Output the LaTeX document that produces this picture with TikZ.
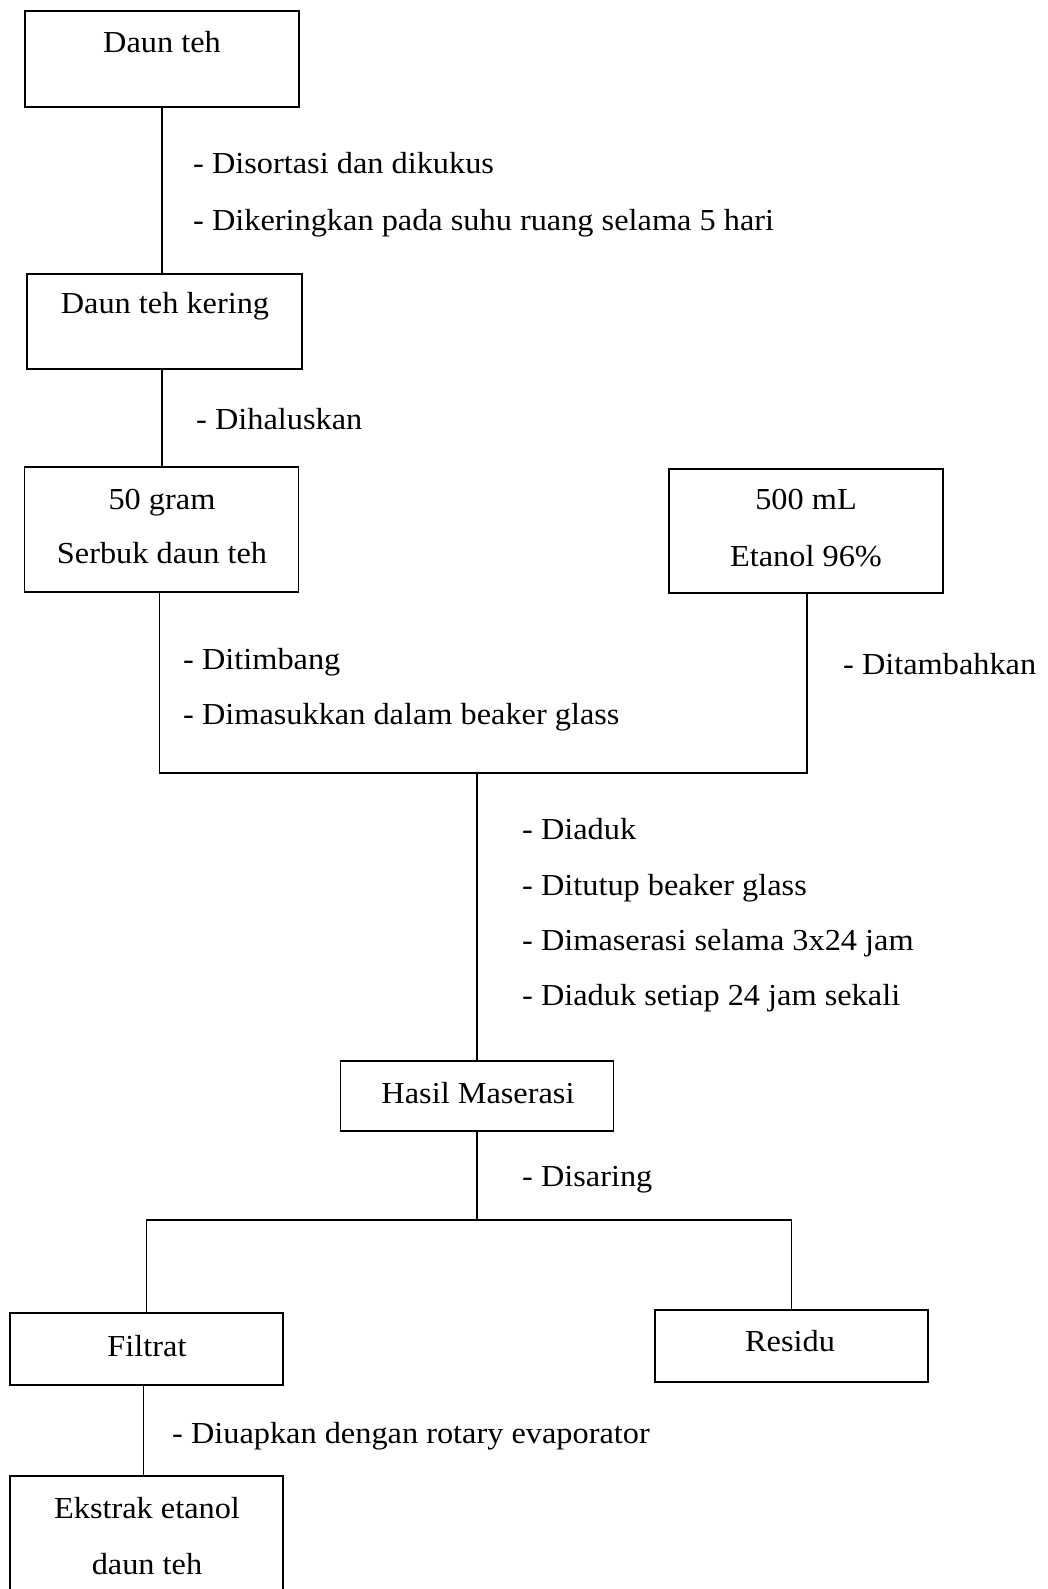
\documentclass[tikz,border=0pt]{standalone}
\usepackage{fontspec}
\setmainfont{Liberation Serif}[FakeStretch=1.06]
\begin{document}
\begin{tikzpicture}[x=1pt,y=-1pt,
  box/.style={draw, line width=1.1pt, inner sep=0pt},
  txt/.style={anchor=base, inner sep=0pt, font=\fontsize{30.5}{36}\selectfont},
  lbl/.style={anchor=base west, inner sep=0pt, font=\fontsize{30.5}{36}\selectfont},
  conn/.style={line width=1.1pt}]
\useasboundingbox (0,0) rectangle (1047,1589);
\clip (0,0) rectangle (1047,1589);

% boxes
\node[box, minimum width=274pt, minimum height=96pt]  (b1) at (162,59) {};
\node[box, minimum width=275pt, minimum height=95pt]  (b2) at (164.5,321.5) {};
\node[box, minimum width=274pt, minimum height=125pt] (b3) at (161.5,529.5) {};
\node[box, minimum width=274pt, minimum height=124pt] (b4) at (806,531) {};
\node[box, minimum width=273pt, minimum height=70pt]  (hasil) at (477,1096) {};
\node[box, minimum width=273pt, minimum height=72pt]  (filtrat) at (146.5,1349) {};
\node[box, minimum width=273pt, minimum height=72pt]  (residu) at (791.5,1346) {};
\node[box, minimum width=273pt, minimum height=150pt] (ekstrak) at (146.5,1551) {};

% box texts
\node[txt] (t1) at (162,53) {Daun teh};
\node[txt] (t2) at (165,313) {Daun teh kering};
\node[txt] (t3a) at (162,509) {50 gram};
\node[txt] (t3b) at (162,563) {Serbuk daun teh};
\node[txt] (t4a) at (806,509) {500 mL};
\node[txt] (t4b) at (806,566) {Etanol 96\%};
\node[txt] (th) at (478,1103) {Hasil Maserasi};
\node[txt] (tf) at (147,1356) {Filtrat};
\node[txt] (tr) at (790,1351) {Residu};
\node[txt] (tea) at (147,1518) {Ekstrak etanol};
\node[txt] (teb) at (147,1574) {daun teh};

% step labels
\node[lbl] (l1) at (193,174) {- Disortasi dan dikukus};
\node[lbl] (l2) at (193,231) {- Dikeringkan pada suhu ruang selama 5 hari};
\node[lbl] (l3) at (196,429) {- Dihaluskan};
\node[lbl] (l4) at (183,669) {- Ditimbang};
\node[lbl] (l5) at (183,724) {- Dimasukkan dalam beaker glass};
\node[lbl] (l6) at (843,674) {- Ditambahkan};
\node[lbl] (l7) at (522,839) {- Diaduk};
\node[lbl] (l8) at (522,895) {- Ditutup beaker glass};
\node[lbl] (l9) at (522,950) {- Dimaserasi selama 3x24 jam};
\node[lbl] (l10) at (522,1005) {- Diaduk setiap 24 jam sekali};
\node[lbl] (l11) at (522,1186) {- Disaring};
\node[lbl] (l12) at (172,1443) {- Diuapkan dengan rotary evaporator};

% junctions
\coordinate (j1) at (477,773);
\coordinate (j2) at (477,1220);

% connectors
\draw[conn] (b1.south) -- (b1.south |- b2.north);
\draw[conn] (b2.south -| b1.south) -- (b1.south |- b3.north);
\draw[conn] ([xshift=-2pt]b3.south) |- (j1) -| ([xshift=1pt]b4.south);
\draw[conn] (j1) -- (j1 |- hasil.north);
\draw[conn] (hasil.south) -- (j2);
\draw[conn] (filtrat.north) |- (j2) -| (residu.north);
\draw[conn] ([xshift=-3pt]filtrat.south) -- ([xshift=-3pt]ekstrak.north);
\end{tikzpicture}
\end{document}
